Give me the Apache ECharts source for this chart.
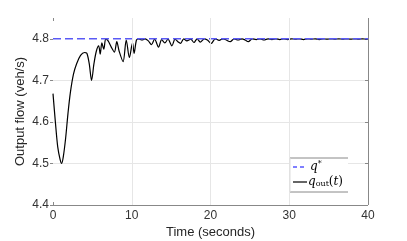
<!DOCTYPE html>
<html><head><meta charset="utf-8">
<script src="https://cdn.jsdelivr.net/npm/echarts@6/dist/echarts.min.js"></script>
<style>html,body{margin:0;padding:0;background:#fff}#c{width:407px;height:241px}</style>
</head><body><div id="c"></div>
<script>
// Data
var xTicks = [0, 10, 20, 30, 40];
var yTicks = [4.4, 4.5, 4.6, 4.7, 4.8];
var targetFlow = 4.8;
var times = [0,0.3,0.6,0.9,1.1,1.3,1.6,1.9,2.2,2.6,3.0,3.5,4.0,4.3,4.6,4.9,5.2,5.5,5.8,6.0,6.2,6.45,6.7,7.0,7.4,7.8,8.1,8.4,8.9,9.3,9.7,10.1,10.3,10.6,10.9,11.3,11.7,12.1,12.5,12.9,13.4,13.8,14.2,14.6,15.1,15.5,15.9,16.2,16.6,17.0,17.5,17.9,18.3,18.7,19.2,19.6,20.1,20.6,21.1,21.6,22.0,22.5,23.0,23.5,24.0,24.4,24.8,25.3,25.8,26.3,26.8,27.3,27.8,28.3,28.8,29.3,29.8,30.3,30.8,31.3,31.8,32.3,32.8,33.3,33.8,34.3,34.8,35.3,35.8,36.3,36.8,37.3,37.8,38.3,38.8,39.3,39.8,40];
var flow = [4.668,4.60,4.54,4.51,4.500,4.515,4.56,4.62,4.67,4.715,4.74,4.76,4.767,4.765,4.74,4.70,4.74,4.77,4.783,4.763,4.79,4.775,4.80,4.795,4.78,4.768,4.793,4.77,4.745,4.797,4.755,4.79,4.765,4.797,4.80,4.797,4.80,4.795,4.786,4.799,4.78,4.798,4.79,4.799,4.783,4.799,4.792,4.789,4.80,4.795,4.799,4.791,4.80,4.792,4.80,4.797,4.789,4.80,4.796,4.80,4.797,4.793,4.80,4.797,4.80,4.797,4.793,4.80,4.798,4.80,4.797,4.80,4.798,4.80,4.798,4.80,4.798,4.80,4.799,4.80,4.798,4.80,4.799,4.80,4.798,4.80,4.799,4.80,4.799,4.80,4.799,4.80,4.799,4.80,4.799,4.80,4.799,4.80];

var chart = echarts.init(document.getElementById('c'), null, {renderer:'canvas'});
var flowData = times.map(function(t,i){return [t, flow[i]];});
var targetData = [[xTicks[0], targetFlow],[xTicks[xTicks.length-1], targetFlow]];
var innerX = xTicks.slice(1, xTicks.length-1).map(function(v){return {xAxis:v};});
var frame = [{yAxis:yTicks[0]}, {xAxis:xTicks[xTicks.length-1]}];
var font = 'Liberation Sans, Arial, Helvetica, sans-serif';
var g = '#e6e6e6';
chart.setOption({
  animation:false,
  backgroundColor:'#fff',
  grid:{left:53, right:39, top:18, bottom:36, containLabel:false, outerBoundsMode:'none'},
  xAxis:[{
    type:'value', min:0, max:40, interval:10, position:'bottom',
    name:'Time (seconds)', nameLocation:'middle', nameGap:21, nameMoveOverlap:false,
    nameTextStyle:{fontFamily:font, fontSize:13, color:'#262626'},
    axisLine:{show:false},
    axisTick:{show:true, inside:true, length:3, lineStyle:{color:'#888'}},
    axisLabel:{fontFamily:font, fontSize:12, color:'#333', margin:5},
    splitLine:{show:false}
  },{
    type:'value', min:0, max:40, interval:10, position:'top',
    axisLine:{show:false}, axisTick:{show:true, inside:true, length:3, lineStyle:{color:'#888'}},
    axisLabel:{show:false}, splitLine:{show:false}
  }],
  yAxis:[{
    type:'value', min:4.4, max:4.85, interval:0.1, position:'left',
    name:'Output flow (veh/s)', nameLocation:'middle', nameGap:26, nameMoveOverlap:false,
    nameTextStyle:{fontFamily:font, fontSize:13, color:'#262626'},
    axisLine:{show:false},
    axisTick:{show:true, inside:false, length:3, lineStyle:{color:'#888'}, customValues:yTicks},
    axisLabel:{fontFamily:font, fontSize:12, color:'#333', margin:4, customValues:yTicks,
      formatter:function(v){return v.toFixed(1);}},
    splitLine:{show:true, showMinLine:false, showMaxLine:false, lineStyle:{color:g, width:1}}
  },{
    type:'value', min:4.4, max:4.85, interval:0.1, position:'right',
    axisLine:{show:false, onZero:false},
    axisTick:{show:true, inside:true, length:3, lineStyle:{color:'#888'}, customValues:yTicks},
    axisLabel:{show:false}, splitLine:{show:false}
  }],
  series:[{
    type:'line', data:[], silent:true, z:1,
    markLine:{silent:true, symbol:['none','none'], label:{show:false},
      lineStyle:{color:g, width:1, type:'solid'}, data:innerX}
  },{
    type:'line', data:[], silent:true, z:4,
    markLine:{silent:true, symbol:['none','none'], label:{show:false},
      lineStyle:{color:'#888', width:1, type:'solid'}, data:frame}
  },{
    type:'line', data:flowData, showSymbol:false, smooth:0.3,
    lineStyle:{color:'#000', width:1.2}, z:2
  },{
    type:'line', data:targetData, showSymbol:false,
    lineStyle:{color:'#5a5af5', width:1.4, type:[8,4]}, z:3
  }],
  graphic:[
    {type:'rect', shape:{x:290, y:158, width:58, height:34}, style:{fill:'#fff', stroke:null}, z:10},
    {type:'line', shape:{x1:290,y1:158,x2:348,y2:158}, style:{stroke:'#888', lineWidth:1}, z:11},
    {type:'line', shape:{x1:290,y1:192,x2:348,y2:192}, style:{stroke:'#888', lineWidth:1}, z:11},
    {type:'line', shape:{x1:290,y1:158,x2:290,y2:192}, style:{stroke:'#ddd', lineWidth:1}, z:11},
    {type:'line', shape:{x1:293,y1:167,x2:307,y2:167}, style:{stroke:'#0000ff', lineWidth:1, lineDash:[4,3]}, z:11},
    {type:'line', shape:{x1:293,y1:182,x2:307,y2:182}, style:{stroke:'#000', lineWidth:1.2}, z:11},
    {type:'text', x:310, y:167, z:11, style:{
      text:'{i|q}{s|*}', verticalAlign:'middle', align:'left',
      rich:{i:{fontFamily:'DejaVu Serif, Liberation Serif, serif', fontStyle:'italic', fontSize:12, fill:'#000'},
            s:{fontFamily:'DejaVu Serif, serif', fontSize:8, fill:'#000', verticalAlign:'top', padding:[0,0,6,0]}}}},
    {type:'text', x:308, y:182, z:11, style:{
      text:'{i|q}{sub|out}{n|(}{i|t}{n|)}', verticalAlign:'middle', align:'left',
      rich:{i:{fontFamily:'DejaVu Serif, Liberation Serif, serif', fontStyle:'italic', fontSize:12, fill:'#000'},
            sub:{fontFamily:'DejaVu Serif, Liberation Serif, serif', fontSize:8, fill:'#000', padding:[4,0,0,0]},
            n:{fontFamily:'DejaVu Serif, Liberation Serif, serif', fontSize:12, fill:'#000'}}}}
  ]
});
</script></body></html>
